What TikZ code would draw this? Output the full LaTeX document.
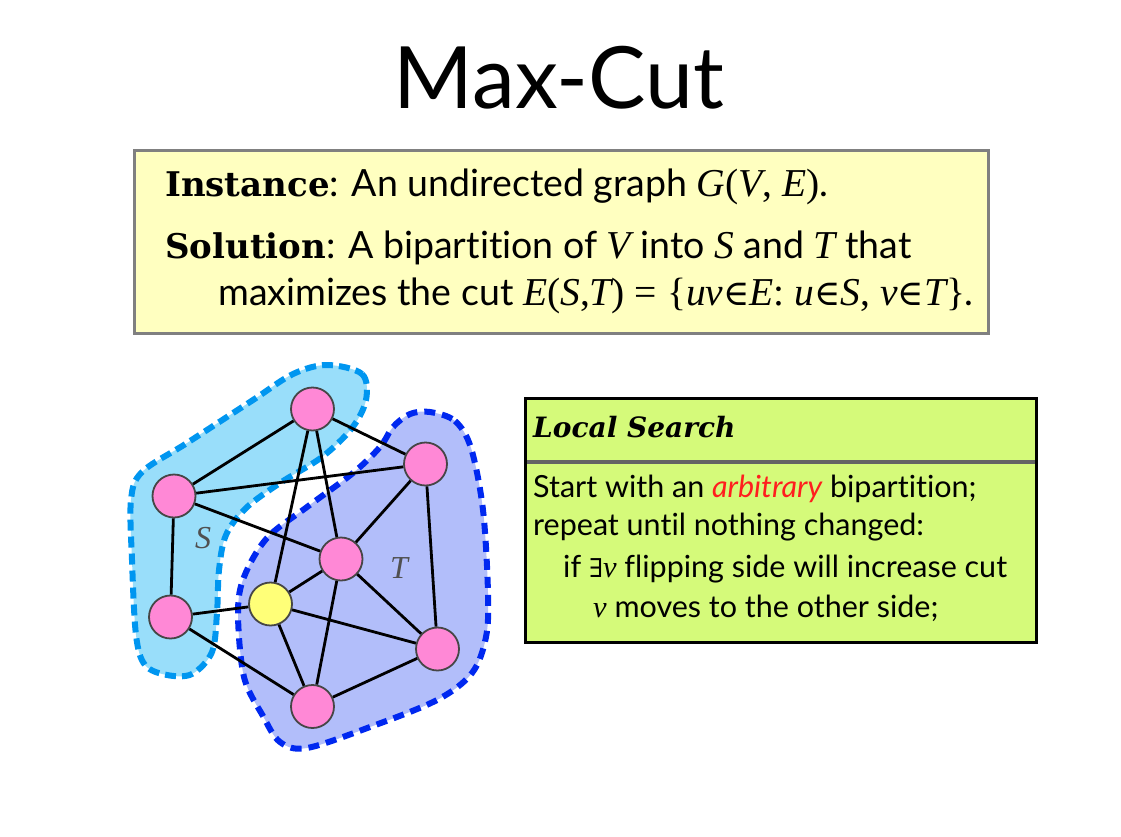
\documentclass[tikz,border=0pt]{standalone}
\usepackage{fontspec}
\setmainfont[Ligatures=NoCommon]{Lato}
\newfontfamily\mth{Liberation Serif}
\newfontfamily\bser{DejaVu Serif}
\newfontfamily\sym{DejaVu Serif}
\usetikzlibrary{calc}
\definecolor{sfill}{RGB}{153,222,250}
\definecolor{sline}{RGB}{0,150,240}
\definecolor{tfill}{RGB}{178,190,250}
\definecolor{tline}{RGB}{0,40,240}
\definecolor{vpink}{RGB}{255,136,214}
\definecolor{vyel}{RGB}{255,255,120}
\definecolor{vline}{RGB}{70,70,70}
\definecolor{boxy}{RGB}{255,255,192}
\definecolor{boxyline}{RGB}{128,128,128}
\definecolor{boxg}{RGB}{213,250,122}
\definecolor{sepgray}{RGB}{100,100,100}
\definecolor{labgray}{RGB}{80,80,80}
\definecolor{arbred}{RGB}{255,30,30}
\newcommand{\mi}[1]{{\mth\itshape #1}}
\newcommand{\bmi}[1]{{\mth\fontsize{39.5}{40}\selectfont\itshape #1}}
\newcommand{\elt}{{\sym\upshape\scalebox{0.9}{∈}}}
\begin{document}
\begin{tikzpicture}[x=1pt,y=-1pt,
  vtx/.style={circle,minimum size=43pt,inner sep=0pt,fill=vpink,draw=vline,line width=1.8pt},
  yvtx/.style={vtx,fill=vyel},
  edge/.style={line width=2.8pt,black},
  txt/.style={anchor=base west,inner sep=0pt,font=\fontsize{30.5}{32}\selectfont},
  big/.style={anchor=base west,inner sep=0pt,font=\fontsize{37.5}{40}\selectfont}]
\useasboundingbox (0,0) rectangle (1121,836);
\fill[white] (0,0) rectangle (1121,836);
% title
\node[inner sep=0pt,anchor=base,font=\fontsize{86}{90}\selectfont] (title) at (559,108) {Max-Cut};
% yellow box
\node[draw=boxyline,line width=2.5pt,fill=boxy,minimum width=854pt,minimum height=183pt,anchor=north west,inner sep=0pt] (defbox) at (133,149) {};
\node[big] (l1) at (165,196) {{\bser\bfseries\fontsize{34}{36}\selectfont Instance}: An undirected graph \bmi{G\upshape(\itshape V\upshape, \itshape E\upshape)}.};
\node[big] (l2) at (165,258) {{\bser\bfseries\fontsize{34}{36}\selectfont Solution}: A bipartition of \bmi{V} into \bmi{S} and \bmi{T} that};
\node[big] (l3) at (218,305) {maximizes the cut \bmi{E\upshape(\itshape S\upshape,\itshape T\upshape) = \{\itshape uv\elt E\upshape: \itshape u\elt S\upshape, \itshape v\elt T\upshape\}}.};
% regions
\path[fill=sfill,draw=sline,line width=6pt,dash pattern=on 11pt off 6pt]
  plot[smooth cycle,tension=0.55] coordinates {(327,365) (362,374) (366,400) (352,428) (322,457) (280,483) (246,508) (226,535) (219,570) (217,613) (212,652) (192,674) (167,675) (145,665) (136,635) (132,560) (131,500) (142,472) (187,443) (253,400) (293,374)};
\path[fill=tfill,draw=tline,line width=6pt,dash pattern=on 11pt off 7pt]
  plot[smooth cycle,tension=0.55] coordinates {(430,412) (455,421) (471,448) (483,510) (488,593) (486,637) (472,673) (437,700) (370,727) (307,748) (280,742) (263,716) (244,677) (238,613) (244,577) (267,538) (307,507) (353,473) (380,447) (393,427) (410,414)};
% labels
\node[inner sep=0pt,text=labgray,font=\fontsize{32}{34}\selectfont\mth\itshape] (Slab) at (203,538) {S};
\node[inner sep=0pt,text=labgray,font=\fontsize{32}{34}\selectfont\mth\itshape] (Tlab) at (399,568) {T};
% vertices
\node[vtx] (a) at (312.5,409) {};
\node[vtx] (b) at (425.5,464) {};
\node[vtx] (c) at (174,496) {};
\node[vtx] (d) at (341,559) {};
\node[yvtx] (e) at (270.5,604) {};
\node[vtx] (f) at (170.5,617) {};
\node[vtx] (g) at (437.5,649) {};
\node[vtx] (h) at (312.5,706.5) {};
% edges
\foreach \u/\v in {a/c,a/b,a/e,a/d,c/b,c/d,c/f,f/e,f/h,d/b,d/e,d/g,d/h,b/g,e/g,e/h,h/g}
  \draw[edge] (\u) -- (\v);
% local search box
\node[draw=black,line width=3pt,fill=boxg,minimum width=511pt,minimum height=244pt,anchor=north west,inner sep=0pt] (lsbox) at (524,397) {};
\node[anchor=base west,inner sep=0pt,font=\fontsize{28}{30}\selectfont\bser\bfseries\itshape] (lstitle) at (533,437) {Local Search};
\draw[line width=4pt,sepgray] ($(lsbox.north west)+(3,65)$) coordinate (sepL) -- ($(lsbox.north east)+(-3,65)$) coordinate (sepR);
\node[txt] (t1) at (533,497) {Start with an \textcolor{arbred}{\itshape arbitrary} bipartition;};
\node[txt] (t2) at (533,535) {repeat until nothing changed:};
\node[txt] (t3) at (563,577) {if {\sym\scalebox{0.85}{∃}}\mi{v} flipping side will increase cut};
\node[txt] (t4) at (593,617) {\mi{v} moves to the other side;};
\end{tikzpicture}
\end{document}
